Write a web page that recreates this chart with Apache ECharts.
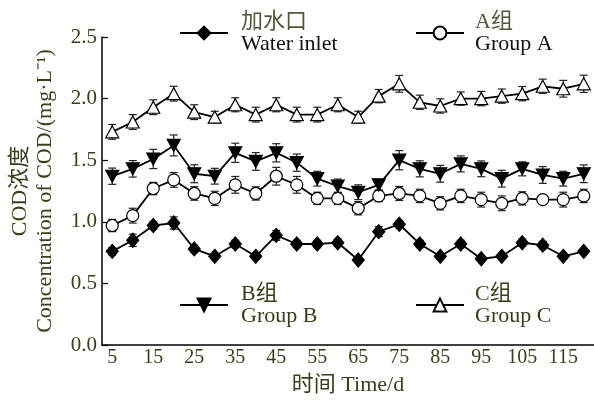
<!DOCTYPE html>
<html>
<head>
<meta charset="utf-8">
<script src="https://cdn.jsdelivr.net/npm/echarts@6/dist/echarts.min.js"></script>
<style>
html,body{margin:0;padding:0;background:#fff;}
#chart{width:594px;height:403px;}
</style>
</head>
<body>
<div id="chart"></div>
<script>
var days = ['5','10','15','20','25','30','35','40','45','50','55','60','65','70','75','80','85','90','95','100','105','110','115','120'];
var yTicks = [0, 0.5, 1.0, 1.5, 2.0, 2.5];

var inlet    = [0.76,0.85,0.97,0.99,0.78,0.72,0.82,0.72,0.89,0.82,0.82,0.83,0.69,0.92,0.98,0.82,0.72,0.82,0.70,0.72,0.83,0.81,0.72,0.76];
var inletErr = [0.03,0.05,0.03,0.05,0.03,0.02,0.03,0.02,0.04,0.03,0.03,0.03,0.02,0.04,0.03,0.03,0.02,0.03,0.02,0.02,0.03,0.03,0.02,0.02];

var groupA    = [0.97,1.05,1.27,1.34,1.23,1.19,1.30,1.23,1.37,1.30,1.19,1.19,1.11,1.21,1.23,1.21,1.15,1.21,1.18,1.15,1.19,1.18,1.18,1.21];
var groupAErr = [0.05,0.06,0.05,0.06,0.055,0.058,0.068,0.054,0.072,0.068,0.05,0.05,0.054,0.047,0.057,0.054,0.054,0.054,0.06,0.06,0.054,0.034,0.06,0.054];

var groupB    = [1.37,1.43,1.51,1.62,1.39,1.37,1.56,1.49,1.56,1.48,1.35,1.29,1.24,1.30,1.50,1.43,1.39,1.47,1.43,1.35,1.43,1.38,1.35,1.39];
var groupBErr = [0.066,0.067,0.078,0.085,0.073,0.064,0.078,0.072,0.074,0.07,0.06,0.057,0.06,0.043,0.078,0.065,0.068,0.065,0.064,0.068,0.057,0.068,0.06,0.072];

var groupC    = [1.73,1.81,1.93,2.04,1.89,1.85,1.95,1.87,1.95,1.87,1.87,1.95,1.85,2.02,2.12,1.97,1.94,2.00,2.00,2.02,2.04,2.10,2.08,2.12];
var groupCErr = [0.06,0.06,0.06,0.06,0.06,0.047,0.057,0.06,0.057,0.06,0.06,0.057,0.047,0.054,0.068,0.058,0.058,0.054,0.058,0.058,0.058,0.058,0.068,0.07];

var FONT = '"Liberation Serif", "Noto Sans CJK SC", serif';
var OLIVE = '#3c3c1c';

function errData(v, e) {
  return v.map(function (val, i) { return [i, val - e[i], val + e[i]]; });
}
function renderErr(params, api) {
  var x = api.value(0);
  var p1 = api.coord([x, api.value(1)]);
  var p2 = api.coord([x, api.value(2)]);
  var w = 4;
  var st = { stroke: '#222', lineWidth: 1.2 };
  return {
    type: 'group',
    children: [
      { type: 'line', shape: { x1: p1[0], y1: p1[1], x2: p2[0], y2: p2[1] }, style: st },
      { type: 'line', shape: { x1: p1[0] - w, y1: p1[1], x2: p1[0] + w, y2: p1[1] }, style: st },
      { type: 'line', shape: { x1: p2[0] - w, y1: p2[1], x2: p2[0] + w, y2: p2[1] }, style: st }
    ]
  };
}
function errSeries(v, e) {
  return {
    type: 'custom', renderItem: renderErr, data: errData(v, e),
    encode: { x: 0, y: [1, 2] }, z: 1, silent: true
  };
}
function lineSeries(name, data, symbol, size, fill, rotate) {
  return {
    name: name, type: 'line', data: data, symbol: symbol, symbolSize: size,
    symbolRotate: rotate || 0, showAllSymbol: true, z: 3,
    lineStyle: { color: '#000', width: 1.8 },
    itemStyle: { color: fill, borderColor: '#000', borderWidth: 1.2 }
  };
}
function legendCfg(name, left, top, cn, en, cnColor, enColor, padL) {
  return {
    data: [name], left: left, top: top, padding: 0, itemWidth: 48, itemHeight: 16,
    selectedMode: false,
    formatter: function () { return '{a|' + cn + '}\n{b|' + en + '}'; },
    textStyle: {
      rich: {
        a: { fontFamily: FONT, fontSize: 22, lineHeight: 22, color: cnColor, padding: [0, 0, 0, padL] },
        b: { fontFamily: FONT, fontSize: 22, lineHeight: 22, color: enColor, padding: [0, 0, 0, padL] }
      }
    }
  };
}

var chart = echarts.init(document.getElementById('chart'));
chart.setOption({
  animation: false,
  backgroundColor: '#fff',
  grid: { left: 100, right: 0, top: 37, bottom: 58 },
  legend: [
    legendCfg('加水口', 179, 11, '加水口', 'Water inlet', '#55553a', '#111', 8),
    legendCfg('A组', 415, 11, 'A组', 'Group A', '#55553a', '#111', 6),
    legendCfg('B组', 179, 283, 'B组', 'Group B', OLIVE, OLIVE, 8),
    legendCfg('C组', 415, 283, 'C组', 'Group C', OLIVE, OLIVE, 6)
  ],
  xAxis: {
    type: 'category', data: days, boundaryGap: true,
    name: '时间 Time/d', nameLocation: 'middle', nameGap: 29,
    nameTextStyle: { fontFamily: FONT, fontSize: 22, color: OLIVE },
    axisLine: { lineStyle: { color: '#000', width: 1.5 } },
    axisTick: { inside: true, length: 6, interval: 0, lineStyle: { color: '#000', width: 1.2 } },
    axisLabel: { interval: 1, margin: 3, fontFamily: FONT, fontSize: 20, color: OLIVE },
    splitLine: { show: false }
  },
  yAxis: {
    type: 'value', min: yTicks[0], max: yTicks[yTicks.length - 1], interval: 0.5,
    name: 'COD浓度\nConcentration of COD/(mg·L⁻¹)', nameLocation: 'middle', nameGap: 44, nameRotate: 90,
    nameTextStyle: { fontFamily: FONT, fontSize: 22, lineHeight: 25, color: OLIVE },
    axisLine: { show: true, lineStyle: { color: '#000', width: 1.5 } },
    axisTick: { show: true, inside: true, length: 6, lineStyle: { color: '#000', width: 1.2 } },
    axisLabel: { margin: 5, fontFamily: FONT, fontSize: 21, color: OLIVE, formatter: function (v) { return v.toFixed(1); } },
    splitLine: { show: false }
  },
  series: [
    errSeries(inlet, inletErr),
    errSeries(groupA, groupAErr),
    errSeries(groupB, groupBErr),
    errSeries(groupC, groupCErr),
    lineSeries('加水口', inlet, 'diamond', [12, 14], '#000'),
    lineSeries('A组', groupA, 'circle', 12, '#fff'),
    lineSeries('B组', groupB, 'triangle', [13, 12], '#000', 180),
    lineSeries('C组', groupC, 'triangle', [13, 12], '#fff')
  ]
});
</script>
</body>
</html>
